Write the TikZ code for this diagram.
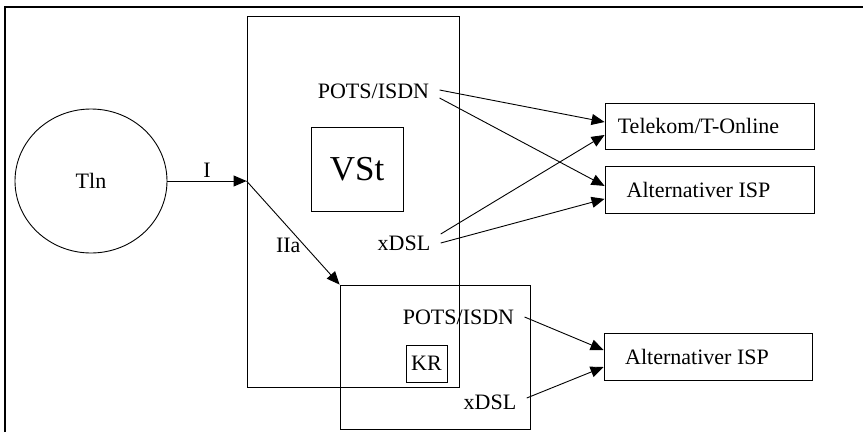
\documentclass[tikz,border=0pt]{standalone}
\usepackage{fontspec}
\setmainfont{Liberation Serif}
\usetikzlibrary{arrows.meta,shapes.geometric,positioning}

\begin{document}
\begin{tikzpicture}[x=1pt,y=-1pt,->,>={Triangle[length=13pt,width=11pt]},
  line width=0.9pt,font=\fontsize{22}{26}\selectfont,
  box node/.style={rectangle,draw,inner sep=0pt},
  isp node/.style={box node,minimum width=209,minimum height=47,
    execute at end node=\hspace{22pt}},
  txt node/.style={inner xsep=10pt,inner ysep=0pt}]

  \useasboundingbox (0,0) rectangle (863,432);
  \draw[-,line width=2pt] (5,432) -- (5,7) -- (863,7);

  \node[ellipse,draw,minimum width=152,minimum height=144] (tln) at (91,181) {Tln};
  \node[box node,minimum width=212,minimum height=371] (vst) at (353,201.5) {};
  \node[box node,minimum width=92,minimum height=84,
    font=\fontsize{35}{40}\selectfont] (vstbox) at (357,169) {VSt};
  \node[box node,minimum width=190,minimum height=144] (kr) at (435,357) {};
  \node[box node,minimum width=41,minimum height=37] (krbox) at (426.5,363.5) {KR};

  \node[txt node] (pots1) at (373.5,91) {POTS/ISDN};
  \node[txt node] (xdsl1) at (404,243) {xDSL};
  \node[txt node] (pots2) at (458.5,317) {POTS/ISDN};
  \node[txt node] (xdsl2) at (490,402) {xDSL};

  \node[isp node,minimum height=46] (tel) at (709.5,126) {Telekom/T-Online};
  \node[isp node] (isp1) [below=17pt of tel] {Alternativer ISP};
  \node[isp node,minimum width=208] (isp2) at (708,356.5) {Alternativer ISP};

  \coordinate (ein) at (vst.west |- tln);

  \path
    (tln) edge node[above] {I} (ein)
    (ein) edge node[pos=0.62,left] {IIa} (kr.north west);

  \path
    ([yshift=1pt]pots1.east) edge ([yshift=4pt]tel.west)
    ([yshift=-7pt]pots1.east) edge ([yshift=4.5pt]isp1.west)
    ([yshift=9pt]xdsl1.east) edge ([yshift=-9pt]tel.west)
    (xdsl1.east) edge ([yshift=-8.5pt]isp1.west)
    (pots2.east) edge ([yshift=6.5pt]isp2.west)
    ([yshift=4pt]xdsl2.east) edge ([yshift=-10.5pt]isp2.west);

\end{tikzpicture}
\end{document}
